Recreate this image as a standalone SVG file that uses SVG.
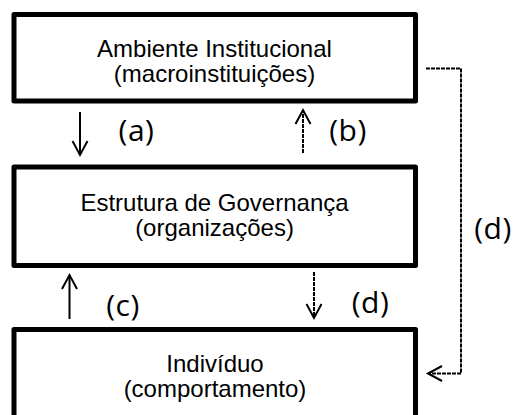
<svg xmlns="http://www.w3.org/2000/svg" width="513" height="415" viewBox="0 0 513 415">
<style>
.box{fill:#fff;stroke:#000;stroke-width:5;stroke-linejoin:round}
.t{font-family:"Liberation Sans",Arial,sans-serif;font-size:24px;fill:#000;text-anchor:middle}
.lbl{font-family:"Open Sans","Noto Sans",sans-serif;font-size:30px;fill:#000;text-anchor:middle;letter-spacing:0.5px}
.solid{fill:none;stroke:#000;stroke-width:2}
.dash{fill:none;stroke:#000;stroke-width:2;stroke-dasharray:4 1}
</style>
<defs>
<marker id="ah" markerUnits="userSpaceOnUse" markerWidth="20" markerHeight="20" viewBox="-16 -10 20 20" refX="0" refY="0" orient="auto" overflow="visible">
<path d="M-14,-7.5 L0,0 L-14,7.5" fill="none" stroke="#000" stroke-width="2"/>
</marker>
</defs>
<g id="node-ambiente">
<rect class="box" x="14" y="14.5" width="401.5" height="86.5"/>
<text class="t" x="214.5" y="57">Ambiente Institucional</text>
<text class="t" x="214.5" y="82">(macroinstituições)</text>
</g>
<g id="node-estrutura">
<rect class="box" x="14" y="167" width="401.5" height="98.5"/>
<text class="t" x="214.5" y="211">Estrutura de Governança</text>
<text class="t" x="214.5" y="236">(organizações)</text>
</g>
<g id="node-individuo">
<rect class="box" x="14" y="329.5" width="401.5" height="100"/>
<text class="t" x="215" y="372">Indivíduo</text>
<text class="t" x="215" y="397">(comportamento)</text>
</g>
<g id="connectors">
<line class="solid" x1="80" y1="112" x2="80" y2="155" marker-end="url(#ah)"/>
<line class="dash" x1="303" y1="153" x2="303" y2="110" marker-end="url(#ah)"/>
<line class="solid" x1="69.5" y1="319" x2="69.5" y2="275" marker-end="url(#ah)"/>
<line class="dash" x1="314" y1="272" x2="314" y2="318" marker-end="url(#ah)"/>
<path class="dash" d="M426,68.5 H461 V373.5 H428" marker-end="url(#ah)"/>
</g>
<g id="labels">
<text class="lbl" x="136.5" y="141">(a)</text>
<text class="lbl" x="348" y="141">(b)</text>
<text class="lbl" x="123" y="316">(c)</text>
<text class="lbl" x="370.5" y="313">(d)</text>
<text class="lbl" x="493" y="239">(d)</text>
</g>
</svg>
